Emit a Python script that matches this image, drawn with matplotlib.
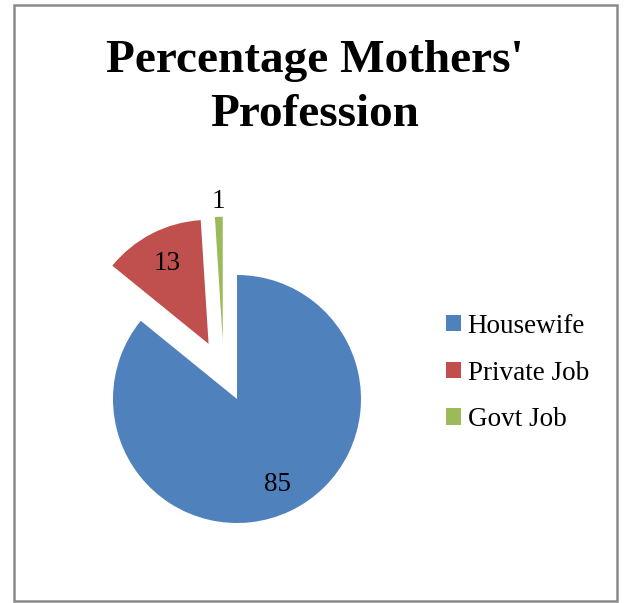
import matplotlib
matplotlib.use("Agg")
import matplotlib.pyplot as plt
from matplotlib.patches import Rectangle
import numpy as np

# DATA
labels = ["Housewife", "Private Job", "Govt Job"]
values = [85, 13, 1]
colors = ["#4F81BD", "#C0504D", "#9BBB59"]
explode = [0, 0.5, 0.47]

W, H = 626, 603
R_PX = 124          # pie radius in pixels
CX, CY = 237, 399   # pie centre (image coords)
A = 1.6             # half-width of axes in data units

plt.rcParams["font.family"] = ["Liberation Serif", "DejaVu Serif"]

fig = plt.figure(figsize=(W / 100, H / 100), dpi=100)

# chart border
fig.patches.append(Rectangle((14 / W, 1 - 601 / H), 603 / W, 596 / H,
                             transform=fig.transFigure, fill=False,
                             edgecolor="#8a8a8a", linewidth=1.8))

# pie axes, 1 data unit = R_PX pixels
side = 2 * A * R_PX
ax = fig.add_axes([(CX - side / 2) / W, (H - CY - side / 2) / H, side / W, side / H])
wedges, _ = ax.pie(values, colors=colors, explode=explode, startangle=90,
                   counterclock=False, radius=1,
                   wedgeprops=dict(linewidth=0))
ax.set_xlim(-A, A)
ax.set_ylim(-A, A)
ax.axis("off")

# green sliver sits a bit left of its radial position
gx, gy = wedges[2].center
wedges[2].set_center((gx - 0.1, gy))

# value labels
label_r = [0.76, 0.73, 1.12]
for w, v, lr in zip(wedges, values, label_r):
    mid = np.deg2rad((w.theta1 + w.theta2) / 2)
    x0, y0 = w.center
    ax.text(x0 + lr * np.cos(mid), y0 + lr * np.sin(mid), str(v),
            ha="center", va="center", fontsize=19.5, color="black", clip_on=False)

# title
fig.text(0.503, 1 - 72 / H, "Percentage Mothers'", ha="center", va="baseline",
         fontsize=34, fontweight="bold")
fig.text(0.503, 1 - 126 / H, "Profession", ha="center", va="baseline",
         fontsize=34, fontweight="bold")

# legend
fig.legend(wedges, labels, loc="center left",
           bbox_to_anchor=(446 / W, 1 - 373 / H), frameon=False,
           fontsize=19.5, handlelength=0.55, handleheight=0.55,
           handletextpad=0.25, labelspacing=0.8, borderpad=0, borderaxespad=0)

fig.savefig("out.png", dpi=100)
